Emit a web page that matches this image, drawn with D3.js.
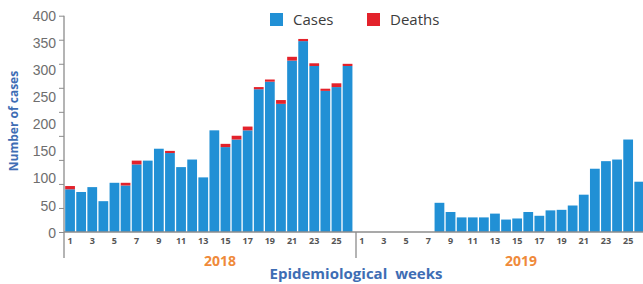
<!DOCTYPE html>
<html>
<head>
<meta charset="utf-8">
<script src="https://cdn.jsdelivr.net/npm/d3@7"></script>
<style>
body { margin: 0; background: #fff; }
svg { font-family: "Open Sans", "Liberation Sans", sans-serif; }
.weekLabel { font-size: 9px; font-weight: bold; fill: #555; }
.yLabel text { font-size: 14px; fill: #6e6e6e; }
</style>
</head>
<body>
<svg id="chart" width="643" height="284"></svg>
<script>
// epidemiological weeks 1..26 for each year
var weeks = d3.range(1, 27);
var cases2018 = [79, 74, 83, 57, 91, 86, 125, 132, 154, 146, 120, 134, 101, 188,
	157, 171, 188, 264, 278, 237, 317, 353, 307, 261, 268, 307];
var deaths2018 = [6, 0, 0, 0, 0, 5, 7, 0, 0, 4, 0, 0, 0, 0,
	6, 7, 7, 4, 4, 7, 7, 4, 5, 4, 7, 4];
var cases2019 = [0, 0, 0, 0, 0, 0, 0, 54, 37, 27, 27, 27, 34, 23,
	25, 37, 30, 40, 41, 49, 69, 117, 131, 134, 171, 93];
var deaths2019 = [0, 0, 0, 0, 0, 0, 0, 0, 0, 0, 0, 0, 0, 0,
	0, 0, 0, 0, 0, 0, 0, 0, 0, 0, 0, 0];
var yTicks = [0, 50, 100, 150, 200, 250, 300, 350, 400];
var years = ["2018", "2019"];

var CASES_COLOR = "#2190d5";
var DEATHS_COLOR = "#e3222b";
var AXIS_COLOR = "#8c8c8c";

var AXIS_X = 64;
var AXIS_Y = 232;

var svg = d3.select("#chart");

var y = d3.scaleLinear().domain([0, 400]).range([AXIS_Y, 15.7]);

var x2018 = d3.scaleBand().domain(weeks).range([AXIS_X + 0.5, 353.1]).paddingInner(0.12).paddingOuter(0.06);
var x2019 = d3.scaleBand().domain(weeks).range([356.2, 644.8]).paddingInner(0.12).paddingOuter(0.06);

var yearData = [
	{label: years[0], x: x2018, cases: cases2018, deaths: deaths2018},
	{label: years[1], x: x2019, cases: cases2019, deaths: deaths2019}
];

//bars
yearData.forEach(function(yd) {
	var rows = weeks.map(function(w, i) {
		return {week: w, cases: yd.cases[i], deaths: yd.deaths[i]};
	});
	var g = svg.append("g");
	g.selectAll(".caseBar")
		.data(rows.filter(function(d) { return d.cases > 0; }))
		.enter()
		.append("rect")
		.attr("class", "caseBar")
		.attr("x", function(d) { return yd.x(d.week); })
		.attr("width", yd.x.bandwidth())
		.attr("y", function(d) { return y(d.cases); })
		.attr("height", function(d) { return AXIS_Y - y(d.cases); })
		.attr("fill", CASES_COLOR);
	g.selectAll(".deathBar")
		.data(rows.filter(function(d) { return d.deaths > 0; }))
		.enter()
		.append("rect")
		.attr("class", "deathBar")
		.attr("x", function(d) { return yd.x(d.week); })
		.attr("width", yd.x.bandwidth())
		.attr("y", function(d) { return y(d.cases + d.deaths); })
		.attr("height", function(d) { return y(d.cases) - y(d.cases + d.deaths); })
		.attr("fill", DEATHS_COLOR);

	//week labels, odd weeks only
	g.selectAll(".weekLabel")
		.data(weeks.filter(function(w) { return w % 2 == 1; }))
		.enter()
		.append("text")
		.attr("class", "weekLabel")
		.attr("x", function(w) { return yd.x(w) + yd.x.bandwidth() / 2; })
		.attr("y", 244)
		.attr("text-anchor", "middle")
		.text(function(w) { return w; });
});

//y axis: tick marks and labels
var tickMarks = svg.append("g")
	.attr("transform", "translate(" + AXIS_X + ",0)")
	.call(d3.axisLeft(y).tickValues(d3.range(10).map(function(i) { return i * 400 / 9; })).tickFormat("").tickSize(5));
tickMarks.select(".domain").remove();
tickMarks.selectAll("line").attr("stroke", AXIS_COLOR);

var yLabels = svg.append("g")
	.attr("class", "yLabel")
	.attr("transform", "translate(" + AXIS_X + ",0)")
	.call(d3.axisLeft(y).tickValues(yTicks).tickSize(0).tickPadding(8));
yLabels.select(".domain").remove();
yLabels.selectAll("text").attr("font-family", null).attr("font-size", null).attr("dy", "0.36em");

//axis lines
svg.append("line")
	.attr("x1", AXIS_X).attr("x2", AXIS_X)
	.attr("y1", y(400)).attr("y2", 258)
	.attr("stroke", AXIS_COLOR).attr("stroke-width", 1.3);
svg.append("line")
	.attr("x1", AXIS_X).attr("x2", 643)
	.attr("y1", AXIS_Y).attr("y2", AXIS_Y)
	.attr("stroke", AXIS_COLOR).attr("stroke-width", 1.3);
svg.append("line")
	.attr("x1", 356).attr("x2", 356)
	.attr("y1", AXIS_Y).attr("y2", 258)
	.attr("stroke", AXIS_COLOR).attr("stroke-width", 1.3);

//year labels
svg.selectAll(".yearLabel")
	.data(yearData)
	.enter()
	.append("text")
	.attr("class", "yearLabel")
	.attr("x", function(d, i) { return i == 0 ? 220 : 521; })
	.attr("y", 266)
	.attr("text-anchor", "middle")
	.attr("font-size", 14)
	.attr("font-weight", "bold")
	.attr("fill", "#ef8a3a")
	.text(function(d) { return d.label; });

//axis titles
svg.append("text")
	.attr("x", 356)
	.attr("y", 279)
	.attr("text-anchor", "middle")
	.attr("font-size", 15)
	.attr("font-weight", "bold")
	.attr("fill", "#3e6db4")
	.attr("word-spacing", 4)
	.text("Epidemiological weeks");

svg.append("text")
	.attr("transform", "translate(18,121) rotate(-90)")
	.attr("text-anchor", "middle")
	.attr("font-size", 12)
	.attr("font-weight", "bold")
	.attr("fill", "#3e6db4")
	.text("Number of cases");

//legend
var legendItems = [
	{label: "Cases", color: CASES_COLOR, x: 270},
	{label: "Deaths", color: DEATHS_COLOR, x: 367}
];
var legend = svg.selectAll(".legendItem")
	.data(legendItems)
	.enter()
	.append("g")
	.attr("class", "legendItem")
	.attr("transform", function(d) { return "translate(" + d.x + ",13)"; });
legend.append("rect")
	.attr("width", 13)
	.attr("height", 13)
	.attr("fill", function(d) { return d.color; });
legend.append("text")
	.attr("x", 23)
	.attr("y", 12)
	.attr("font-size", 15)
	.attr("fill", "#3c3c3c")
	.text(function(d) { return d.label; });
</script>
</body>
</html>
